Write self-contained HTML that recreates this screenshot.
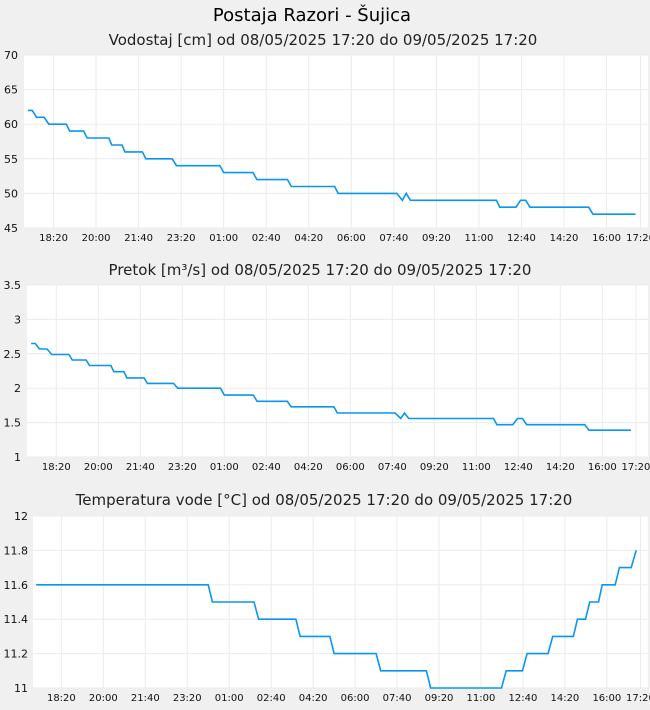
<!DOCTYPE html>
<html><head><meta charset="utf-8"><style>
body{margin:0;background:#f0f0f0;width:650px;height:710px;overflow:hidden;font-family:"DejaVu Sans","Liberation Sans",sans-serif}
svg{display:block}
</style></head><body>
<svg id="c" width="650" height="710">
<text x="312" y="21" text-anchor="middle" font-size="18" fill="#000">Postaja Razori - Šujica</text>
</svg>
<script>
// shared time axis (minutes since 08/05/2025 17:20)
const tickLabels = ["18:20","20:00","21:40","23:20","01:00","02:40","04:20","06:00","07:40","09:20","11:00","12:40","14:20","16:00","17:20"];
const tickMinutes = [60,160,260,360,460,560,660,760,860,960,1060,1160,1260,1360,1440];

// Vodostaj [cm]
const levelTimes = [0,10,20,38,49,90,98,131,139,190,197,221,228,269,277,339,349,451,460,529,538,610,619,721,729,867,880,889,899,1101,1109,1147,1158,1170,1180,1318,1328,1428];
const levelValues = [62,62,61,61,60,60,59,59,58,58,57,57,56,56,55,55,54,54,53,53,52,52,51,51,50,50,49,50,49,49,48,48,49,49,48,48,47,47];
const levelTicks = [45,50,55,60,65,70];

// Pretok [m3/s]
const flowTimes = levelTimes.slice();
const flowValues = [2.65,2.65,2.57,2.57,2.49,2.49,2.41,2.41,2.33,2.33,2.24,2.24,2.15,2.15,2.07,2.07,2.0,2.0,1.9,1.9,1.81,1.81,1.73,1.73,1.64,1.64,1.56,1.64,1.56,1.56,1.47,1.47,1.56,1.56,1.47,1.47,1.39,1.39];
const flowTicks = [1,1.5,2,2.5,3,3.5];

// Temperatura vode [°C]
const tempTimes = [0,410,420,519,530,619,629,700,710,810,821,930,940,1109,1120,1159,1170,1220,1231,1280,1290,1309,1319,1340,1349,1380,1390,1418,1430];
const tempValues = [11.6,11.6,11.5,11.5,11.4,11.4,11.3,11.3,11.2,11.2,11.1,11.1,11.0,11.0,11.1,11.1,11.2,11.2,11.3,11.3,11.4,11.4,11.5,11.5,11.6,11.6,11.7,11.7,11.8];
const tempTicks = [11,11.2,11.4,11.6,11.8,12];

const NS="http://www.w3.org/2000/svg";
const svg=document.getElementById('c');
function mk(tag,attrs,parent){const e=document.createElementNS(NS,tag);for(const k in attrs)e.setAttribute(k,attrs[k]);(parent||svg).appendChild(e);return e;}

function chart(o){
  const g=mk('g',{});
  
  
  const t=mk('text',{x:o.titleX,y:o.titleY,'text-anchor':'middle','font-size':15,fill:'#222'},g);
  t.textContent=o.title;
  
  
  const bg=mk('rect',{x:o.left,y:o.top,width:o.right-o.left,height:o.bottom-o.top,fill:'#fff'},g);
  
  
  const xs=m=>o.x0+m*o.k;
  const ys=v=>o.bottom-(v-o.ymin)/(o.ymax-o.ymin)*(o.bottom-o.top);
  o.yticks.forEach(v=>{
    const y=ys(v);
    const l=mk('line',{x1:o.left,x2:o.right,y1:y,y2:y,stroke:'#ebebeb','stroke-width':1},g);
    
    
    const tx=mk('text',{x:o.ylabX,y:y+4,'text-anchor':'end','font-size':11,fill:'#111'},g);
    tx.textContent=String(v);
    
    
  });
  tickMinutes.forEach((m,i)=>{
    const x=xs(m);
    const l=mk('line',{x1:x,x2:x,y1:o.top,y2:o.bottom,stroke:'#ebebeb','stroke-width':1},g);
    
    
    const tx=mk('text',{x:x,y:o.bottom+13,'text-anchor':'middle','font-size':10,fill:'#111'},g);
    tx.textContent=tickLabels[i];
    
    
  });
  const pts=o.times.map((m,i)=>xs(m).toFixed(1)+','+ys(o.values[i]).toFixed(1)).join(' ');
  const pl=mk('polyline',{points:pts,fill:'none',stroke:'#0a96f0','stroke-width':1.6},g);
  
  
}

chart({name:'level',title:'Vodostaj [cm] od 08/05/2025 17:20 do 09/05/2025 17:20',titleX:323,titleY:45,
  left:24,right:648,top:55,bottom:228,x0:28,k:0.4254,ymin:45,ymax:70,yticks:levelTicks,ylabX:18,
  times:levelTimes,values:levelValues});
chart({name:'flow',title:'Pretok [m³/s] od 08/05/2025 17:20 do 09/05/2025 17:20',titleX:320,titleY:275,
  left:27,right:648,top:285,bottom:457,x0:31.1,k:0.42,ymin:1,ymax:3.5,yticks:flowTicks,ylabX:21,
  times:flowTimes,values:flowValues});
chart({name:'temperature',title:'Temperatura vode [°C] od 08/05/2025 17:20 do 09/05/2025 17:20',titleX:324,titleY:505,
  left:33,right:648,top:516,bottom:688,x0:36.2,k:0.4196,ymin:11,ymax:12,yticks:tempTicks,ylabX:28,
  times:tempTimes,values:tempValues});
</script>
</body></html>
